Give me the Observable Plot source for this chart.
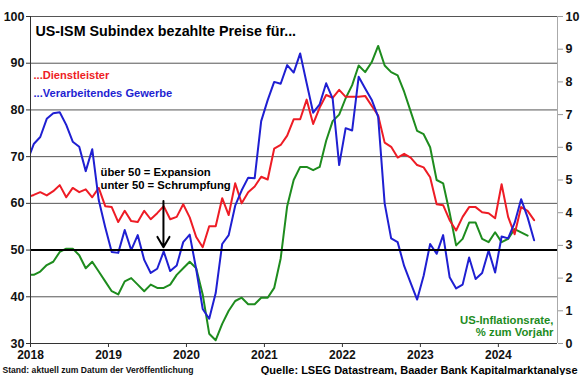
<!DOCTYPE html>
<html>
<head>
<meta charset="utf-8">
<script src="https://cdn.jsdelivr.net/npm/d3@7"></script>
<script src="https://cdn.jsdelivr.net/npm/@observablehq/plot@0.6"></script>
<style>
  html, body { margin: 0; padding: 0; background: #fff; }
  #chart { width: 580px; height: 375px; }
</style>
</head>
<body>
<div id="chart"></div>
<script>
// Monthly values, first element = Dec 2017
const startYear = 2018;
const yearTicks = [2018, 2019, 2020, 2021, 2022, 2023, 2024];
const leftTicks = [30, 40, 50, 60, 70, 80, 90, 100];
const rightTicks = [0, 1, 2, 3, 4, 5, 6, 7, 8, 9, 10];

// ISM Services prices paid (Dec 2017 .. Jun 2024)
const services = [
  61.3,
  61.8, 62.4, 61.7, 62.6, 63.9, 61.3, 63.3, 62.4, 63.0, 61.3, 63.3, 59.4,
  59.2, 56.0, 58.4, 56.2, 56.0, 58.4, 56.6, 57.9, 59.4, 56.6, 57.1, 59.8,
  57.0, 52.8, 50.6, 55.1, 55.1, 61.1, 57.5, 64.3, 60.0, 62.4, 63.6, 65.7,
  65.1, 71.7, 72.5, 74.5, 78.0, 78.0, 82.2, 77.0, 80.5, 83.2, 82.6, 84.3,
  82.8, 82.8, 82.8, 83.0, 80.9, 78.8, 73.0, 72.1, 69.8, 70.6, 69.8, 68.2,
  67.7, 65.6, 59.8, 59.6, 56.4, 54.2, 57.1, 59.2, 59.2, 58.1, 57.9, 56.8,
  64.1, 57.1, 53.4, 59.2, 58.4, 56.4
];
// ISM Manufacturing prices paid (Dec 2017 .. Jun 2024)
const manufacturing = [
  69.0,
  72.7, 74.2, 78.1, 79.3, 79.5, 76.8, 73.2, 72.1, 66.9, 71.6, 60.7, 54.9,
  49.6, 49.4, 54.3, 50.0, 53.2, 47.9, 45.1, 46.0, 49.7, 45.5, 46.7, 51.7,
  53.3, 45.9, 37.4, 35.3, 40.8, 51.3, 53.2, 59.5, 62.8, 65.5, 65.4, 77.6,
  82.1, 86.0, 85.6, 89.6, 88.0, 92.1, 85.7, 79.4, 81.2, 85.7, 82.4, 68.2,
  76.1, 75.6, 87.1, 84.6, 82.2, 78.5, 60.0, 52.5, 51.7, 46.6, 43.0, 39.4,
  44.5, 51.3, 49.2, 53.2, 44.2, 41.8, 42.6, 48.4, 43.8, 45.1, 49.9, 45.2,
  52.9, 52.5, 55.8, 60.9, 57.0, 52.1
];
// US CPI inflation, % y/y (Dec 2017 .. May 2024), right axis
const inflation = [
  2.1,
  2.1, 2.2, 2.4, 2.5, 2.8, 2.9, 2.9, 2.7, 2.3, 2.5, 2.2, 1.9,
  1.6, 1.5, 1.9, 2.0, 1.8, 1.6, 1.8, 1.7, 1.7, 1.8, 2.1, 2.3,
  2.5, 2.3, 1.5, 0.3, 0.1, 0.6, 1.0, 1.3, 1.4, 1.2, 1.2, 1.4,
  1.4, 1.7, 2.6, 4.2, 5.0, 5.4, 5.4, 5.3, 5.4, 6.2, 6.8, 7.0,
  7.5, 7.9, 8.5, 8.3, 8.6, 9.1, 8.5, 8.3, 8.2, 7.7, 7.1, 6.5,
  6.4, 6.0, 5.0, 4.9, 4.0, 3.0, 3.2, 3.7, 3.7, 3.2, 3.1, 3.4,
  3.1, 3.2, 3.5, 3.4, 3.3
];

// months since Jan 2018, plotted mid-month; index 0 = Dec 2017
const toX = (k) => k - 0.5;
const rightToLeft = (v) => 30 + 7 * v; // right axis 0..10 maps onto left 30..100

const svcData = services.map((v, k) => ({x: toX(k), y: v}));
const mfgData = manufacturing.map((v, k) => ({x: toX(k), y: v}));
const cpiData = inflation.map((v, k) => ({x: toX(k), y: rightToLeft(v)}));

const RED = "#ee1c25", BLUE = "#1f1fd2", GREEN = "#1e8c1e";
const FONT = "'Liberation Sans', Arial, Helvetica, sans-serif";
const xMax = 81.1;

const chart = Plot.plot({
  width: 580,
  height: 375,
  marginLeft: 30,
  marginRight: 23,
  marginTop: 16,
  marginBottom: 32,
  style: {fontFamily: FONT, fontSize: "12px", fontWeight: "bold", background: "#fff", color: "#111", overflow: "visible"},
  x: {type: "linear", domain: [0, xMax]},
  y: {domain: [30, 100]},
  marks: [
    Plot.ruleY(leftTicks.filter(d => d !== 30 && d !== 50), {stroke: "#555", strokeWidth: 1}),
    Plot.ruleX([xMax], {stroke: "#aaa", strokeWidth: 1}),
    Plot.axisY({ticks: leftTicks, tickSize: 4, tickPadding: 2, label: null, stroke: "#333", fontSize: 12.5, fontWeight: "bold"}),
    Plot.axisY({anchor: "right", ticks: rightTicks.map(rightToLeft), tickFormat: d => String(Math.round((d - 30) / 7)), tickSize: 5, tickPadding: 3, label: null, stroke: "#999", fontSize: 12.5, fontWeight: "bold"}),
    Plot.axisX({ticks: yearTicks.map(y => (y - startYear) * 12), tickFormat: d => String(startYear + Math.round(d / 12)), tickSize: 4, tickPadding: 3, label: null, stroke: "#333", fontSize: 12, fontWeight: "bold"}),
    Plot.line(cpiData, {x: "x", y: "y", stroke: GREEN, strokeWidth: 2, clip: true}),
    Plot.line(svcData, {x: "x", y: "y", stroke: RED, strokeWidth: 2, clip: true}),
    Plot.line(mfgData, {x: "x", y: "y", stroke: BLUE, strokeWidth: 2, clip: true}),
    Plot.ruleY([50], {stroke: "#000", strokeWidth: 2}),
    Plot.ruleX([0], {stroke: "#333", strokeWidth: 1}),
    Plot.ruleY([30], {stroke: "#333", strokeWidth: 1}),
    Plot.arrow([{x1: 20.46, y1: 60.5, x2: 20.46, y2: 50.6}], {x1: "x1", y1: "y1", x2: "x2", y2: "y2", stroke: "#000", strokeWidth: 2, headLength: 9}),
    Plot.text(["US-ISM Subindex bezahlte Preise für..."], {frameAnchor: "top-left", dx: 5, dy: 15, textAnchor: "start", lineAnchor: "middle", fontSize: 14.3, fontWeight: "bold", fill: "#000"}),
    Plot.text(["...Dienstleister"], {frameAnchor: "top-left", dx: 3, dy: 59, textAnchor: "start", lineAnchor: "middle", fontSize: 11.1, fontWeight: "bold", fill: RED}),
    Plot.text(["...Verarbeitendes Gewerbe"], {frameAnchor: "top-left", dx: 3, dy: 77, textAnchor: "start", lineAnchor: "middle", fontSize: 11.1, fontWeight: "bold", fill: BLUE}),
    Plot.text(["über 50 = Expansion"], {frameAnchor: "top-left", dx: 70, dy: 156, textAnchor: "start", lineAnchor: "middle", fontSize: 11.3, fontWeight: "bold", fill: "#000"}),
    Plot.text(["unter 50 = Schrumpfung"], {frameAnchor: "top-left", dx: 70, dy: 169, textAnchor: "start", lineAnchor: "middle", fontSize: 11.3, fontWeight: "bold", fill: "#000"}),
    Plot.text(["US-Inflationsrate,"], {frameAnchor: "bottom-right", dx: -4, dy: -23, textAnchor: "end", lineAnchor: "middle", fontSize: 11.3, fontWeight: "bold", fill: GREEN}),
    Plot.text(["% zum Vorjahr"], {frameAnchor: "bottom-right", dx: -4, dy: -11, textAnchor: "end", lineAnchor: "middle", fontSize: 11.3, fontWeight: "bold", fill: GREEN}),
    Plot.text(["Stand: aktuell zum Datum der Veröffentlichung"], {frameAnchor: "bottom-left", dx: -28, dy: 26.5, textAnchor: "start", lineAnchor: "middle", fontSize: 8.6, fontWeight: "bold", fill: "#111"}),
    Plot.text(["Quelle: LSEG Datastream, Baader Bank Kapitalmarktanalyse"], {frameAnchor: "bottom-right", dx: 20, dy: 26.5, textAnchor: "end", lineAnchor: "middle", fontSize: 11, fontWeight: "bold", fill: "#000"})
  ]
});
document.getElementById("chart").appendChild(chart);
</script>
</body>
</html>
